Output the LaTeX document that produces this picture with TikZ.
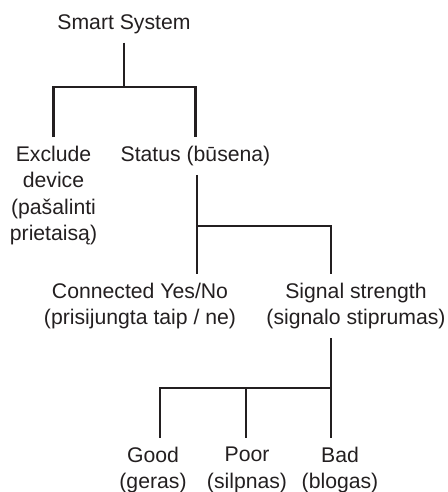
\documentclass[tikz,border=0pt]{standalone}
\usepackage{fontspec}
\setmainfont{Liberation Sans}
\usepackage{xcolor}
\usepackage{tikz}
\definecolor{ink}{HTML}{231F20}

\begin{document}
\begin{tikzpicture}[x=1pt,y=-1pt,
          every node/.style={font=\fontsize{21.2}{26.5}\selectfont,text=ink},
          txt/.style={align=center,inner sep=0pt,outer ysep=9pt},
          tree/.style={line width=2.8pt,draw=ink}
      ]
        \useasboundingbox (0,0) rectangle (447,492);

        \node[txt,anchor=north] (root) at (124,5.5) {Smart System};
        \node[txt,anchor=north] (excl) at (53.5,137)
          {Exclude\\device\\(pašalinti\\prietaisą)};
        \node[txt,anchor=north] (status) at (195.5,137) {Status (būsena)};
        \node[txt,anchor=north] (conn) at (140,274)
          {Connected Yes/No\\(prisijungta taip / ne)};
        \node[txt,anchor=north] (signal) at (356,274)
          {Signal strength\\(signalo stiprumas)};
        \node[txt,anchor=north] (good) at (153,438) {Good\\(geras)};
        \node[txt,anchor=north] (poor) at (247,438) {Poor\\(silpnas)};
        \node[txt,anchor=north] (bad) at (340,438) {Bad\\(blogas)};

        \coordinate (s1) at (124,87);
        \coordinate (s2) at (197,226);
        \coordinate (s3) at (331,226);
        \coordinate (s4) at (331,388);
        \coordinate (s5) at (160,388);
        \coordinate (s6) at (246,388);

        \draw[tree] (root.south) -- (s1);
        \draw[tree] (excl.north) |- (s1) -| (status.north);
        \draw[tree] (status.south -| s2) -- (conn.north -| s2);
        \draw[tree] (s2) -- (s3) -- (signal.north -| s3);
        \draw[tree] (signal.south -| s3) -- (s4) -- (bad.north -| s4);
        \draw[tree] (s4) -- (s5) -- (good.north -| s5);
        \draw[tree] (s6) -- (poor.north -| s6);
      \end{tikzpicture}
\end{document}
